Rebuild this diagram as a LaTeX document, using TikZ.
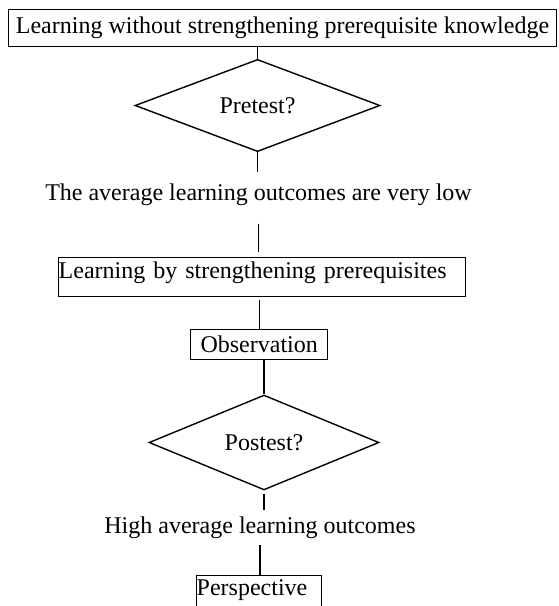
\documentclass[tikz,border=0pt]{standalone}
\usepackage{fontspec}
\setmainfont{Liberation Serif}
\usetikzlibrary{shapes.geometric}

\begin{document}
\begin{tikzpicture}[x=1pt,y=-1pt,line width=1.4pt,
        font=\fontsize{24}{28}\selectfont,
        box/.style={draw,inner sep=0pt},
        test/.style={draw,diamond,inner sep=0pt},
        txt/.style={inner sep=0pt,anchor=base}]
        \useasboundingbox (0,0) rectangle (558,606);
        \node [box,minimum width=548pt,minimum height=37pt] (pre) at (282.5,27.7) {Learning without strengthening prerequisite knowledge};
        \node [test,minimum width=245pt,minimum height=77pt] (pt) at (257.5,105.5) {Pretest?};
        \node [txt,text height=27pt,text depth=23pt] (low) at (258.5,200) {The average learning outcomes are very low};
        \node [box,anchor=north west,text width=407pt,align=left,text height=21pt,text depth=18pt] (lrn) at (58,257) {Learning by strengthening prerequisites};
        \node [box,anchor=north west,minimum width=137pt,minimum height=30pt] (obs) at (190,329) {Observation};
        \node [test,minimum width=230pt,minimum height=75pt] (pst) at (264,442.5) {Postest?};
        \node [txt,text height=22pt,text depth=11pt] (high) at (260,533) {High average learning outcomes};
        \node [box,anchor=north west,text width=125pt,align=left,text height=20pt,text depth=16pt] (per) at (196,575) {Perspective};
        \draw (pt.north |- pre.south)--(pt.north);
        \draw (pt.south)--(pt.south |- low.north);
        \draw [shorten >=5pt] (low.south)--(low.south |- lrn.north);
        \draw [shorten <=3pt] (obs.north |- lrn.south)--(obs.north);
        \draw (pst.north |- obs.south)--(pst.north);
        \draw [shorten <=3pt] (pst.south)--(pst.south |- high.north);
        \draw (high.south)--(high.south |- per.north);
      \end{tikzpicture}
\end{document}
